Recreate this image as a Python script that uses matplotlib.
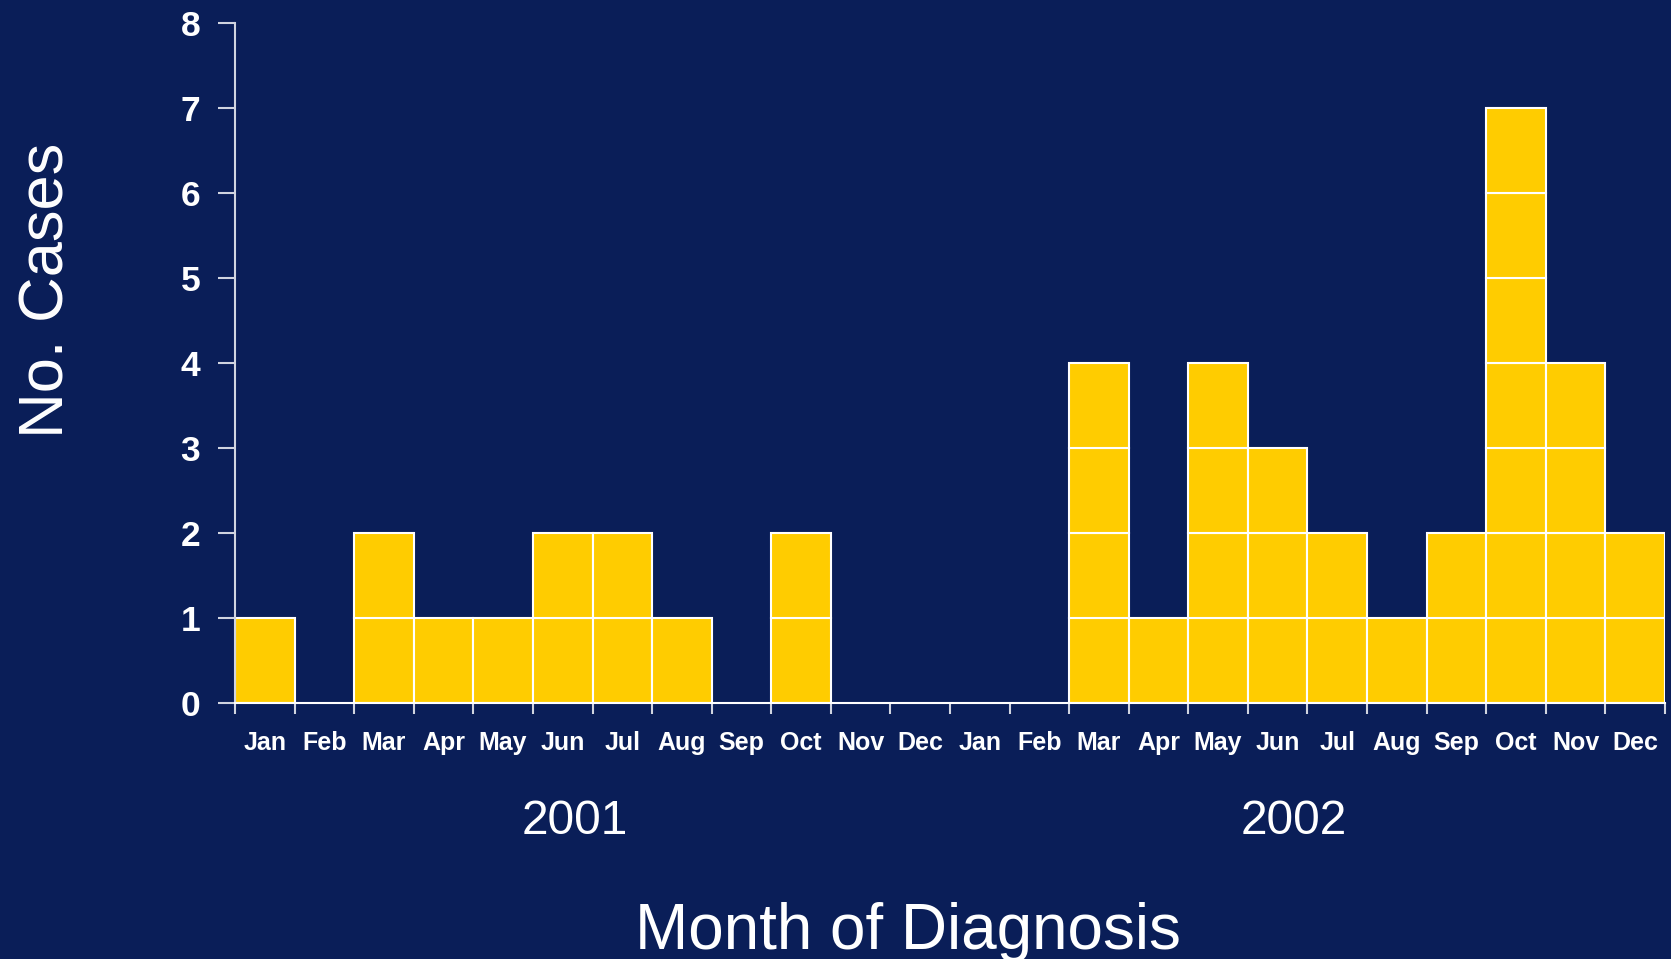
import matplotlib
matplotlib.use("Agg")
import matplotlib.pyplot as plt
import numpy as np

months = ["Jan", "Feb", "Mar", "Apr", "May", "Jun", "Jul", "Aug", "Sep", "Oct", "Nov", "Dec"]
years = ["2001", "2002"]
cases_2001 = [1, 0, 2, 1, 1, 2, 2, 1, 0, 2, 0, 0]
cases_2002 = [0, 0, 4, 1, 4, 3, 2, 1, 2, 7, 4, 2]
yticks = [0, 1, 2, 3, 4, 5, 6, 7, 8]

BG = "#0A1E58"
YEL = "#FFCC00"

plt.rcParams["font.family"] = ["Liberation Sans", "DejaVu Sans"]

fig = plt.figure(figsize=(16.71, 9.59), dpi=100, facecolor=BG)
ax = fig.add_axes([235/1671, 1 - 703/959, (1665 - 235)/1671, (703 - 22.7)/959])
ax.set_facecolor(BG)

counts = cases_2001 + cases_2002
labels = months + months
x = np.arange(len(counts))
for xi, c in zip(x, counts):
    for k in range(c):
        ax.bar(xi, 1, bottom=k, width=1, align="edge", color=YEL,
               edgecolor="white", linewidth=1.5, zorder=2)

ax.set_xlim(0, len(counts))
ax.set_ylim(0, 8)
ax.set_yticks(yticks)
ax.set_yticklabels([str(v) for v in yticks], fontsize=25.5, fontweight="bold", color="white")
ax.set_xticks(np.arange(len(counts) + 1))
ax.set_xticklabels([])
ax.set_xticks(x + 0.5, minor=True)
ax.set_xticklabels(labels, minor=True, fontsize=18, fontweight="bold", color="white")
ax.tick_params(axis="x", which="major", direction="out", length=8, width=1.5, color="#D0D4E0")
ax.tick_params(axis="x", which="minor", length=0, pad=20)
ax.tick_params(axis="y", direction="out", length=12, width=1.5, color="#D0D4E0", pad=13)

for s in ["top", "right"]:
    ax.spines[s].set_visible(False)
ax.spines["left"].set_color("#D0D4E0")
ax.spines["left"].set_linewidth(1.5)
ax.spines["bottom"].set_color("white")
ax.spines["bottom"].set_linewidth(1.5)

yoff = -(821 - 703) / (703 - 22.7)
ax.text(5.7, yoff, years[0], transform=ax.get_xaxis_transform(), fontsize=34.5,
        color="white", ha="center", va="center")
ax.text(17.77, yoff, years[1], transform=ax.get_xaxis_transform(),
        fontsize=34.5, color="white", ha="center", va="center")

fig.text(908/1671, 1 - 932/959, "Month of Diagnosis", fontsize=46, color="white",
         ha="center", va="center")
fig.text(47/1671, 1 - 290/959, "No. Cases", fontsize=45.5, color="white",
         ha="center", va="center", rotation=90)

fig.savefig("out.png", dpi=100, facecolor=BG)
